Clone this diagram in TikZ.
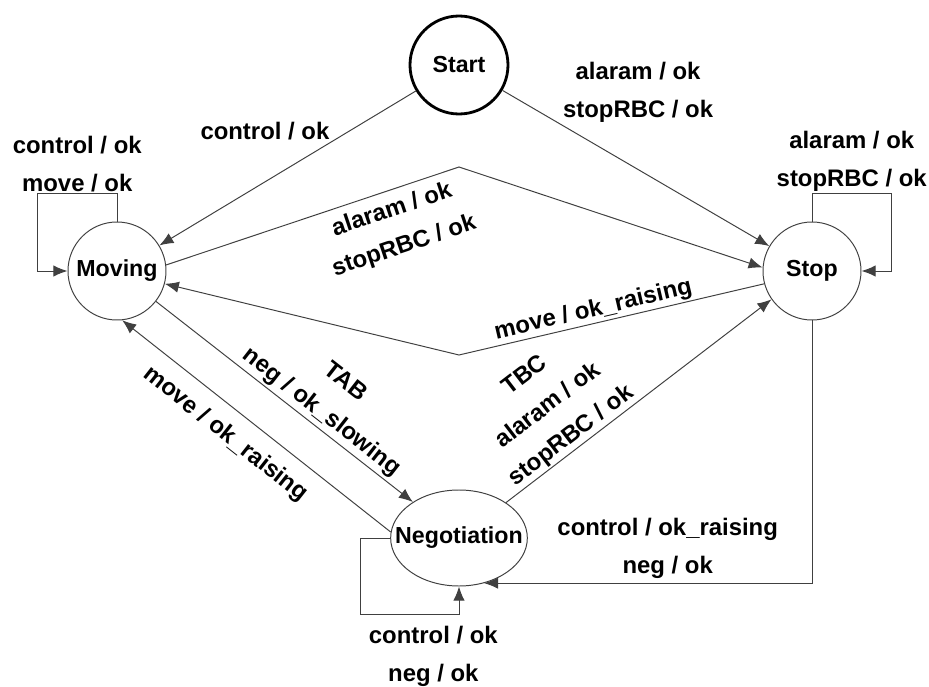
\documentclass[tikz,border=0pt]{standalone}
\usepackage{fontspec}
\setmainfont{Liberation Sans}
\usetikzlibrary{shapes.geometric, arrows.meta}
\newcommand{\statefont}{\fontsize{16.5}{20}\selectfont\bfseries}
\newcommand{\lblfont}{\fontsize{17}{27}\selectfont\bfseries}
\tikzstyle{state} = [circle, minimum size=2.45cm, inner sep=0pt,
  text centered, draw=black!75, line width=0.7pt, font=\statefont]
\tikzstyle{startstate} = [state, draw=black, line width=2pt]
\tikzstyle{negstate} = [ellipse, minimum width=3.4cm, minimum height=2.4cm,
  inner xsep=-11pt, inner ysep=-20pt, text centered, draw=black!75,
  line width=0.7pt, font=\statefont]
\tikzstyle{arrow} = [-{Latex[length=10pt, width=8pt]}, draw=black!75,
  line width=0.7pt]
\tikzstyle{lbl} = [font=\lblfont, inner sep=1pt, align=center]

\begin{document}
\begin{tikzpicture}[node distance=2cm]
  \useasboundingbox (-11.475,1.625) rectangle (11.75,-15.55);
  \node (start) [startstate] {Start};
  \node (moving) [state, below of=start, xshift=-8.55cm, yshift=-3.15cm]
    {Moving};
  \node (stop) [state, right of=moving, xshift=15.375cm] {Stop};
  \node (neg) [negstate, below of=start, yshift=-9.825cm] {Negotiation};
  \coordinate (bendtop) at (0,-2.55);
  \coordinate (bendlow) at (0,-7.25);

  \draw [arrow] (start) -- node[lbl, pos=0.33, anchor=south east]
    {control / ok} (moving);
  \draw [arrow] (start) -- node[lbl, pos=0.22, anchor=south west]
    {alaram / ok\\stopRBC / ok} (stop);
  \draw [arrow] (moving.north) -- ++(0,0.7) -| node[lbl, pos=0.25, above]
    {control / ok\\move / ok} ([xshift=-0.75cm]moving.west) -- (moving.west);
  \draw [arrow] (stop.north) -- ++(0,0.7) -| node[lbl, pos=0.25, above]
    {alaram / ok\\stopRBC / ok} ([xshift=0.75cm]stop.east) -- (stop.east);
  \draw [arrow] (moving.7) -- node[lbl, pos=0.75, sloped, below=5pt]
    {alaram / ok\\stopRBC / ok} (bendtop) -- (stop.176);
  \draw [arrow] (stop.195) -- node[lbl, pos=0.55, sloped, above]
    {move / ok\_raising} (bendlow) -- (moving.-15);
  \draw [arrow] (moving) -- node[lbl, pos=0.61, sloped, above=1pt]
    {TAB\\neg / ok\_slowing} (neg);
  \draw [arrow] (neg.175) -- node[lbl, pos=0.556, sloped, below=9pt]
    {move / ok\_raising} (moving.-84);
  \draw [arrow] (neg.37) -- node[lbl, pos=0.276, sloped, above]
    {TBC\\alaram / ok\\stopRBC / ok} (stop.215);
  \draw [arrow] (stop.south) |- node[lbl, pos=0.72, above=2pt]
    {control / ok\_raising\\neg / ok} (neg.-61);
  \draw [arrow] (neg.west) -- ++(-0.75,0) |- node[lbl, pos=0.87, below=7pt]
    {control / ok\\neg / ok} ([yshift=-0.7cm]neg.south) -- (neg.south);
\end{tikzpicture}
\end{document}
